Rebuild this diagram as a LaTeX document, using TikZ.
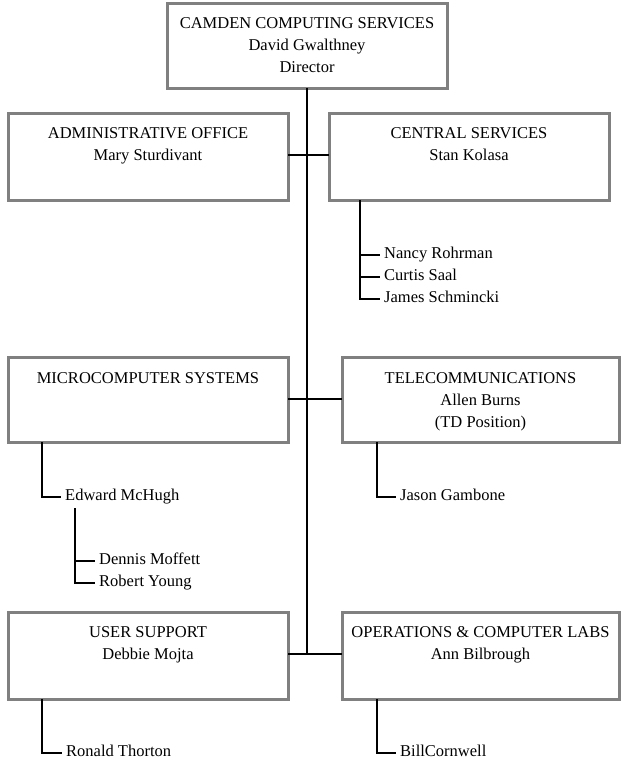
\documentclass[tikz,border=0pt]{standalone}
\usepackage{fontspec}
\setmainfont{Liberation Serif}
\definecolor{boxgray}{RGB}{128,128,128}
\begin{document}
\begin{tikzpicture}[x=1pt,y=-1pt,
  box/.style={draw=boxgray, line width=3pt, rectangle, inner sep=0pt, outer sep=0pt, anchor=north west, minimum width=280pt},
  boxtext/.style={anchor=north, inner sep=0pt, align=center, font=\fontsize{16.5}{22}\selectfont},
  person/.style={anchor=west, inner xsep=4pt, inner ysep=0pt, font=\fontsize{16.5}{22}\selectfont, text height=11pt, text depth=3.5pt},
  link/.style={draw=black, line width=1.5pt}]
\useasboundingbox (0,0) rectangle (621,771);

% boxes
\node[box, minimum height=85pt] (top) at (167,3) {};
\node[box, minimum height=87pt] (admin) at (8,113) {};
\node[box, minimum height=87pt] (central) at (329,113) {};
\node[box, minimum height=85pt] (micro) at (8,357) {};
\node[box, minimum height=85pt, minimum width=277pt] (telecom) at (342,357) {};
\node[box, minimum height=87pt] (user) at (8,612) {};
\node[box, minimum height=87pt, minimum width=277pt] (ops) at (342,612) {};

% box texts
\node[boxtext] (toptext) at ([yshift=-14pt]top.north) {CAMDEN COMPUTING SERVICES\\David Gwalthney\\Director};
\node[boxtext] (admintext) at ([yshift=-14.5pt]admin.north) {ADMINISTRATIVE OFFICE\\Mary Sturdivant};
\node[boxtext] (centraltext) at ([yshift=-14.5pt]central.north) {CENTRAL SERVICES\\Stan Kolasa};
\node[boxtext] (microtext) at ([yshift=-15pt]micro.north) {MICROCOMPUTER SYSTEMS};
\node[boxtext] (telecomtext) at ([yshift=-15pt]telecom.north) {TELECOMMUNICATIONS\\Allen Burns\\(TD Position)};
\node[boxtext] (usertext) at ([yshift=-14.5pt]user.north) {USER SUPPORT\\Debbie Mojta};
\node[boxtext] (opstext) at ([yshift=-14.5pt]ops.north) {OPERATIONS \& COMPUTER LABS\\Ann Bilbrough};

% people
\node[person] (nancy) at (380,255) {Nancy Rohrman};
\node[person] (curtis) at (380,277) {Curtis Saal};
\node[person] (james) at (380,299) {James Schmincki};
\node[person] (edward) at (61,497) {Edward McHugh};
\node[person] (dennis) at (95,561) {Dennis Moffett};
\node[person] (robert) at (95,583) {Robert Young};
\node[person] (jason) at (396,497) {Jason Gambone};
\node[person] (ronald) at (62,753) {Ronald Thorton};
\node[person] (bill) at (396,753) {BillCornwell};

% junctions
\coordinate (j1) at (307,155);
\coordinate (j2) at (307,399);
\coordinate (j3) at (307,654);
\coordinate (cs) at (360,200);
\coordinate (ms) at (42,442);
\coordinate (es) at (75,508);
\coordinate (ts) at (377,442);
\coordinate (us) at (42,699);
\coordinate (os) at (377,699);

% connectors
\draw[link] (top.south) -- (j3);
\draw[link] (admin.east |- j1) -- (central.west |- j1);
\draw[link] (micro.east |- j2) -- (telecom.west |- j2);
\draw[link] (user.east |- j3) -- (ops.west |- j3);

\draw[link] (cs) |- (james.west);
\draw[link] (cs |- nancy.west) -- (nancy.west);
\draw[link] (cs |- curtis.west) -- (curtis.west);

\draw[link] (ms) |- (edward.west);
\draw[link] (es) |- (robert.west);
\draw[link] (es |- dennis.west) -- (dennis.west);

\draw[link] (ts) |- (jason.west);
\draw[link] (us) |- (ronald.west);
\draw[link] (os) |- (bill.west);
\end{tikzpicture}
\end{document}
